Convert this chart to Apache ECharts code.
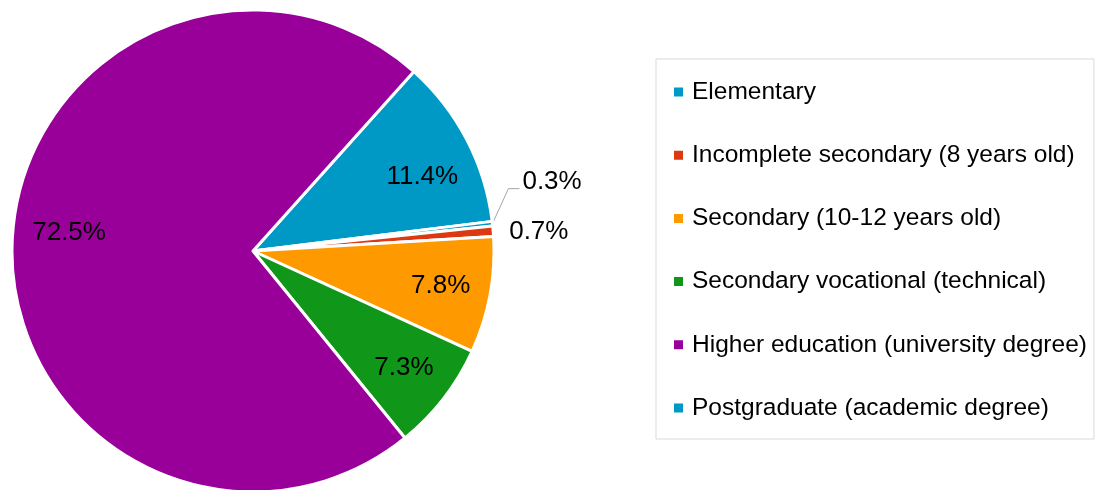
<!DOCTYPE html>
<html>
<head>
<meta charset="utf-8">
<script src="https://cdn.jsdelivr.net/npm/echarts@6/dist/echarts.min.js"></script>
<style>
  html, body { margin: 0; padding: 0; background: #fff; }
  #chart { width: 1101px; height: 490px; }
</style>
</head>
<body>
<div id="chart"></div>
<script>
// legend order
const categories = [
  'Elementary',
  'Incomplete secondary (8 years old)',
  'Secondary (10-12 years old)',
  'Secondary vocational (technical)',
  'Higher education (university degree)',
  'Postgraduate (academic degree)'
];
const shares = [11.4, 0.7, 7.8, 7.3, 72.5, 0.3];
const colors = ['#0099c6', '#dc3912', '#ff9900', '#109618', '#990099', '#0099c6'];
// order of the slices going clockwise
const sliceOrder = [0, 5, 1, 2, 3, 4];

const FONT = '"Liberation Sans", Arial, sans-serif';
const center = [253, 251];
const radius = 241;

const slices = sliceOrder.map(i => ({
  name: categories[i],
  value: shares[i],
  itemStyle: { color: colors[i] }
}));

const myChart = echarts.init(document.getElementById('chart'));

const options = {
  animation: false,
  backgroundColor: '#fff',
  legend: {
    orient: 'vertical',
    left: 656,
    top: 59,
    data: categories,
    icon: 'rect',
    itemWidth: 11,
    itemHeight: 11,
    itemGap: 33.2,
    padding: [18, 7, 16, 16],
    borderColor: '#d9d9d9',
    borderWidth: 1,
    selectedMode: false,
    textStyle: {
      fontFamily: FONT,
      fontSize: 24.5,
      color: '#000',
      lineHeight: 30,
      padding: [0, 0, 0, 3]
    }
  },
  series: [
    {
      // slices + callout labels for the small ones
      type: 'pie',
      center: center,
      radius: radius,
      startAngle: 48.1,
      clockwise: true,
      avoidLabelOverlap: false,
      emphasis: { disabled: true },
      itemStyle: { borderColor: '#fff', borderWidth: 3 },
      data: slices.map(d => ({
        ...d,
        label: { show: d.value < 1 },
        labelLine: { show: d.value < 0.5 }
      })),
      label: {
        position: 'outside',
        fontFamily: FONT,
        fontSize: 26,
        color: '#000',
        formatter: p => p.value.toFixed(1) + '%'
      },
      labelLine: {
        length: 10,
        length2: 10,
        lineStyle: { color: '#a6a6a6', width: 1 }
      },
      labelLayout: function (params) {
        const pts = params.labelLinePoints;
        if (!pts) return {};
        const e = pts[0];
        if (params.text === '0.3%') {
          return {
            x: e[0] + 30, y: e[1] - 42,
            align: 'left', verticalAlign: 'middle',
            labelLinePoints: [e, [e[0] + 16, e[1] - 35], [e[0] + 27, e[1] - 35]]
          };
        }
        return { x: e[0] + 16, y: e[1] + 1, align: 'left', verticalAlign: 'middle' };
      }
    },
    {
      // transparent ring that carries the inside labels further out
      type: 'pie',
      center: center,
      radius: [135, radius],
      startAngle: 48.1,
      clockwise: true,
      silent: true,
      avoidLabelOverlap: false,
      emphasis: { disabled: true },
      itemStyle: { color: 'rgba(0,0,0,0)', borderWidth: 0 },
      data: slices.map(d => ({
        name: d.name,
        value: d.value,
        label: { show: d.value >= 1 }
      })),
      label: {
        position: 'inside',
        fontFamily: FONT,
        fontSize: 26,
        color: '#000',
        formatter: p => p.value.toFixed(1) + '%'
      },
      labelLine: { show: false },
      // nudge two labels the way the original's best-fit placed them
      labelLayout: function (params) {
        if (params.text === '11.4%') return { dy: 14 };
        if (params.text === '72.5%') return { dx: 7, dy: -14 };
        return {};
      }
    }
  ]
};

myChart.setOption(options);
</script>
</body>
</html>
